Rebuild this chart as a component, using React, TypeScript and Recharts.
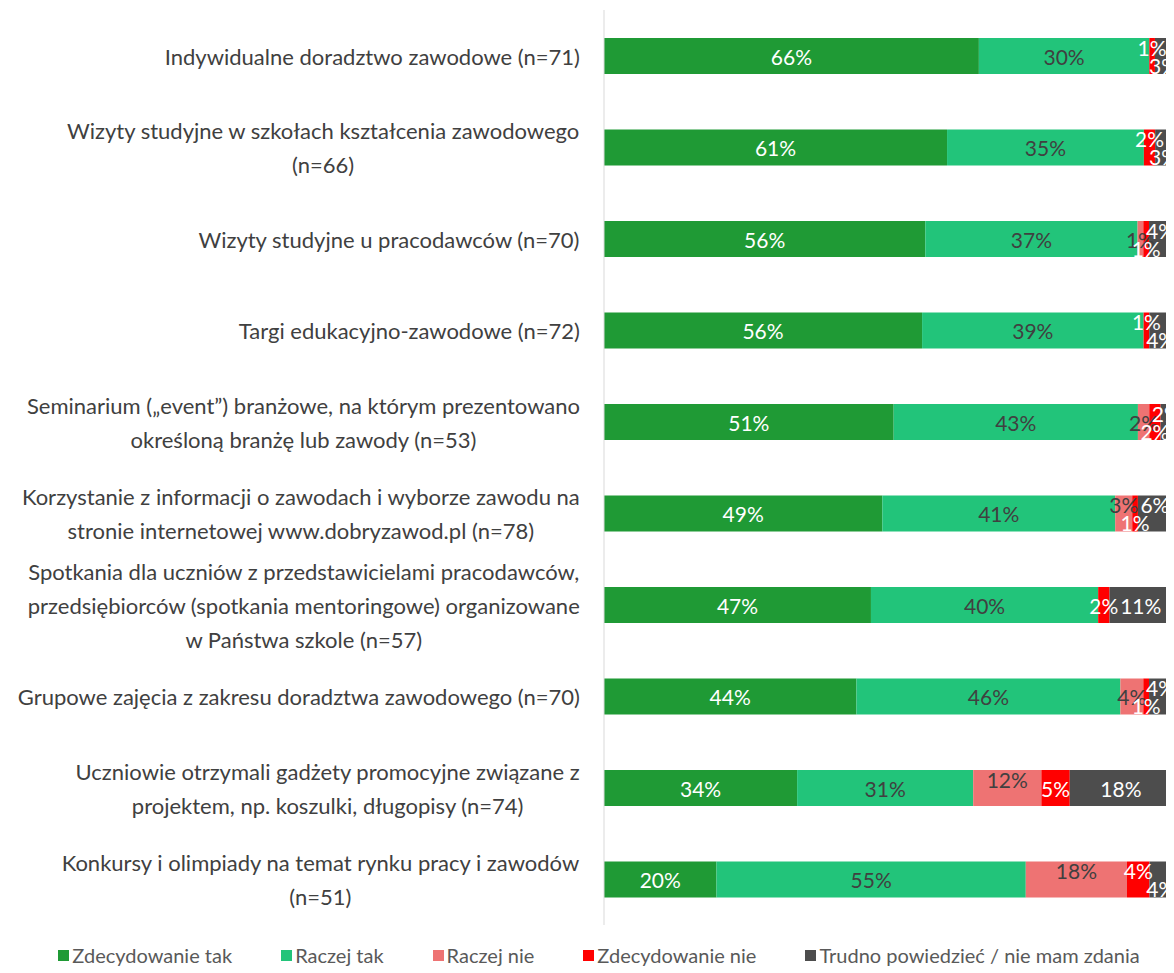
import React from "react";
import { BarChart, Bar, XAxis, YAxis, Legend, LabelList } from "recharts";

const categories = [
  "Indywidualne doradztwo zawodowe (n=71)",
  "Wizyty studyjne w szkołach kształcenia zawodowego\n(n=66)",
  "Wizyty studyjne u pracodawców (n=70)",
  "Targi edukacyjno-zawodowe (n=72)",
  "Seminarium („event”) branżowe, na którym prezentowano\nokreśloną branżę lub zawody (n=53)",
  "Korzystanie z informacji o zawodach i wyborze zawodu na\nstronie internetowej www.dobryzawod.pl (n=78)",
  "Spotkania dla uczniów z przedstawicielami pracodawców,\nprzedsiębiorców (spotkania mentoringowe) organizowane\nw Państwa szkole (n=57)",
  "Grupowe zajęcia z zakresu doradztwa zawodowego (n=70)",
  "Uczniowie otrzymali gadżety promocyjne związane z\nprojektem, np. koszulki, długopisy (n=74)",
  "Konkursy i olimpiady na temat rynku pracy i zawodów\n(n=51)",
];

const zdecydowanieTak = [66, 61, 56, 56, 51, 49, 47, 44, 34, 20];
const raczejTak = [30, 35, 37, 39, 43, 41, 40, 46, 31, 55];
const raczejNie = [0, 0, 1, 0, 2, 3, 0, 4, 12, 18];
const zdecydowanieNie = [1, 2, 1, 1, 2, 1, 2, 1, 5, 4];
const trudnoPowiedziec = [3, 3, 4, 4, 2, 6, 11, 4, 18, 4];

const series = [
  { key: "zt", name: "Zdecydowanie tak", color: "#1f9a35", text: "#ffffff" },
  { key: "rt", name: "Raczej tak", color: "#22c47a", text: "#404040" },
  { key: "rn", name: "Raczej nie", color: "#ee7373", text: "#404040" },
  { key: "zn", name: "Zdecydowanie nie", color: "#ff0000", text: "#ffffff" },
  { key: "tp", name: "Trudno powiedzieć / nie mam zdania", color: "#4d4d4d", text: "#ffffff" },
];

const data = categories.map((name, i) => ({
  name,
  zt: zdecydowanieTak[i],
  rt: raczejTak[i],
  rn: raczejNie[i],
  zn: zdecydowanieNie[i],
  tp: trudnoPowiedziec[i],
}));

// small neighbouring labels get pushed up / down like Excel does
function labelShift(row: number, key: string) {
  const small = series
    .map((s) => s.key)
    .filter((k) => {
      const v = (data[row] as any)[k];
      return v > 0 && v < 7;
    });
  if (small.length < 2) return 0;
  const k = small.indexOf(key);
  if (k < 0) return 0;
  return k % 2 === 0 ? -9 : 9;
}

const FONT = "Lato, 'Open Sans', sans-serif";
const TICK_FS = 22;

let ctx: CanvasRenderingContext2D | null = null;
function measure(s: string) {
  if (!ctx) ctx = document.createElement("canvas").getContext("2d");
  if (!ctx) return s.length * 11;
  ctx.font = `${TICK_FS}px Lato`;
  return ctx.measureText(s).width;
}

function CategoryTick(props: any) {
  const { x, y, payload } = props;
  const lines: string[] = String(payload.value).split("\n");
  const blockW = Math.max(...lines.map(measure));
  const cx = x - blockW / 2;
  const lh = 34;
  const y0 = y - ((lines.length - 1) * lh) / 2;
  return (
    <text
      x={cx}
      y={y0}
      textAnchor="middle"
      dominantBaseline="central"
      fill="#404040"
      fontSize={TICK_FS}
      fontFamily={FONT}
    >
      {lines.map((l, i) => (
        <tspan key={i} x={cx} y={y0 + i * lh}>
          {l}
        </tspan>
      ))}
    </text>
  );
}

function makeLabel(key: string, color: string) {
  return (props: any) => {
    const { x, y, width, height, value, index } = props;
    if (!value) return null;
    return (
      <text
        x={x + width / 2}
        y={y + height / 2 + labelShift(index, key)}
        textAnchor="middle"
        dominantBaseline="central"
        fill={color}
        fontSize={21}
        fontFamily={FONT}
      >
        {`${value}%`}
      </text>
    );
  };
}

function LegendContent() {
  return (
    <div
      style={{
        display: "flex",
        justifyContent: "center",
        fontFamily: FONT,
        fontSize: 20,
        color: "#595959",
        paddingTop: 18,
        paddingLeft: 18,
        whiteSpace: "nowrap",
      }}
    >
      {series.map((s, i) => (
        <div
          key={s.key}
          style={{ display: "flex", alignItems: "center", flexShrink: 0, marginRight: i < series.length - 1 ? 49 : 0 }}
        >
          <span style={{ width: 11, height: 11, background: s.color, marginRight: 3, display: "inline-block" }} />
          <span>{s.name}</span>
        </div>
      ))}
    </div>
  );
}

export default function App() {
  return (
    <BarChart
      width={1166}
      height={965}
      data={data}
      layout="vertical"
      stackOffset="expand"
      barSize={36}
      margin={{ top: 2, right: 2, bottom: 0, left: 0 }}
    >
      <XAxis type="number" hide domain={[0, 1]} />
      <YAxis
        type="category"
        dataKey="name"
        width={596}
        axisLine={{ stroke: "#d9d9d9" }}
        tickLine={false}
        tickSize={0}
        tickMargin={24}
        interval={0}
        tick={<CategoryTick />}
      />
      <Legend verticalAlign="bottom" height={48} content={<LegendContent />} />
      {series.map((s) => (
        <Bar
          key={s.key}
          dataKey={s.key}
          name={s.name}
          stackId="a"
          fill={s.color}
          isAnimationActive={false}
        >
          <LabelList dataKey={s.key} content={makeLabel(s.key, s.text)} />
        </Bar>
      ))}
    </BarChart>
  );
}
